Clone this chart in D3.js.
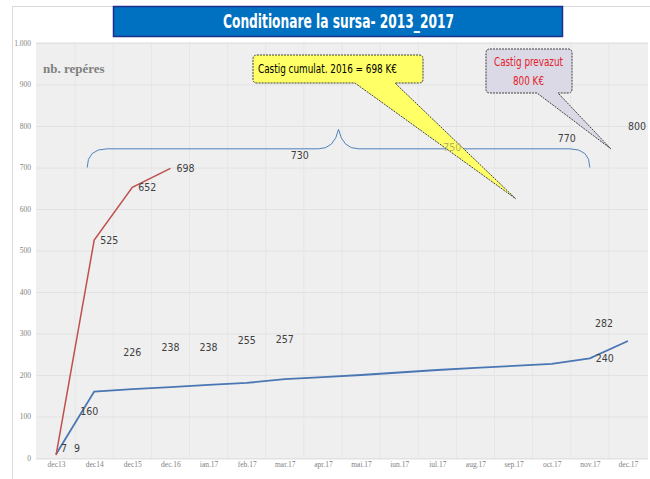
<!DOCTYPE html>
<html>
<head>
<meta charset="utf-8">
<script src="https://cdn.jsdelivr.net/npm/d3@7"></script>
<style>
  body { margin: 0; background: #fff; }
  svg { display: block; }
</style>
</head>
<body>
<div id="chart"></div>
<script>
var months = ["dec13", "dec14", "dec15", "dec.16", "ian.17", "feb.17", "mar.17", "apr.17",
              "mai.17", "iun.17", "iul.17", "aug.17", "sep.17", "oct.17", "nov.17", "dec.17"];
// red line: cumulated gain
var castigMonths = ["dec13", "dec14", "dec15", "dec.16"];
var castigValues = [7, 525, 652, 698];
// blue line: nb. reperes
var reperValues = [9, 160, 166, 171, 176, 181, 190, 195, 200, 206, 212, 217, 222, 227, 240, 282];
var yTicks = [0, 100, 200, 300, 400, 500, 600, 700, 800, 900, 1000];

// data labels (month, value, placement)
var labelMonths = ["dec13", "dec13", "dec14", "dec14", "dec15", "dec.16",
                   "dec15", "dec.16", "ian.17", "feb.17", "mar.17",
                   "mar.17", "iul.17", "nov.17", "dec.17", "nov.17", "dec.17"];
var labelValues = [7, 9, 525, 160, 652, 698,
                   226, 238, 238, 255, 257,
                   730, 750, 770, 800, 240, 282];
var labelPlaces = ["r1", "r2", "r", "b", "r", "r",
                   "a", "a", "a", "a", "a",
                   "r", "r", "l", "r0", "r", "al"];

var W = 650, H = 479;
var lblFont = "'DejaVu Sans Condensed', 'Liberation Sans', sans-serif";
var tickFont = "'Liberation Serif', 'DejaVu Serif', serif";

var svg = d3.select("#chart").append("svg")
  .attr("width", W)
  .attr("height", H);

var x = d3.scalePoint().domain(months).range([37, 647]).padding(0.5);
var y = d3.scaleLinear().domain([0, 1000]).range([458, 43]);

// outer frame
svg.append("rect")
  .attr("x", 12.5).attr("y", 6.5)
  .attr("width", 640).attr("height", 476)
  .attr("fill", "#fff")
  .attr("stroke", "#d9d9d9");

// plot area
svg.append("rect")
  .attr("x", 36).attr("y", 42)
  .attr("width", 612).attr("height", 418)
  .attr("fill", "#efefef");

var step = x.step();
svg.append("g").selectAll("line")
  .data(months.slice(1))
  .enter().append("line")
  .attr("x1", function (d) { return x(d) - step / 2; })
  .attr("x2", function (d) { return x(d) - step / 2; })
  .attr("y1", 42).attr("y2", 459)
  .attr("stroke", "#e6e6e6");

svg.append("g").selectAll("line")
  .data(yTicks)
  .enter().append("line")
  .attr("x1", 36).attr("x2", 648)
  .attr("y1", function (d) { return y(d) + 0.5; })
  .attr("y2", function (d) { return y(d) + 0.5; })
  .attr("stroke", "#e2e2e2");

// axes
var fmt = d3.formatLocale({decimal: ",", thousands: ".", grouping: [3], currency: ["", ""]}).format(",");
var yAxis = svg.append("g")
  .attr("transform", "translate(31,0)")
  .call(d3.axisLeft(y).tickValues(yTicks).tickFormat(fmt).tickSize(0).tickPadding(0));
yAxis.select(".domain").remove();
yAxis.selectAll("text")
  .attr("font-family", tickFont)
  .attr("font-size", "7.5px")
  .attr("fill", "#7f7f7f");

var xAxis = svg.append("g")
  .attr("transform", "translate(0,462)")
  .call(d3.axisBottom(x).tickSize(0).tickPadding(0));
xAxis.select(".domain").remove();
xAxis.selectAll("text")
  .attr("font-family", tickFont)
  .attr("font-size", "7.5px")
  .attr("fill", "#7f7f7f");

// "nb. reperes"
svg.append("text")
  .attr("x", 43).attr("y", 73)
  .attr("font-family", tickFont)
  .attr("font-weight", "bold")
  .attr("font-size", "13px")
  .attr("fill", "#808080")
  .text("nb. repéres");

// brace
var bx0 = x("dec14") - 7, bx1 = x("nov.17"), bxm = (bx0 + bx1) / 2;
var by0 = y(700), by1 = y(745), by2 = y(792);
var brace = d3.path();
brace.moveTo(bx0, by0);
brace.quadraticCurveTo(bx0, by1, bx0 + 20, by1);
brace.lineTo(bxm - 20, by1);
brace.quadraticCurveTo(bxm - 4, by1, bxm, by2);
brace.quadraticCurveTo(bxm + 4, by1, bxm + 20, by1);
brace.lineTo(bx1 - 20, by1);
brace.quadraticCurveTo(bx1, by1, bx1, by0);
svg.append("path")
  .attr("d", brace.toString())
  .attr("fill", "none")
  .attr("stroke", "#4f81bd")
  .attr("stroke-width", 1);

// lines
var line = d3.line()
  .x(function (d) { return x(d.m); })
  .y(function (d) { return y(d.v); });

svg.append("path")
  .datum(months.map(function (m, i) { return {m: m, v: reperValues[i]}; }))
  .attr("d", line)
  .attr("fill", "none")
  .attr("stroke", "#4a76b4")
  .attr("stroke-width", 1.8);

svg.append("path")
  .datum(castigMonths.map(function (m, i) { return {m: m, v: castigValues[i]}; }))
  .attr("d", line)
  .attr("fill", "none")
  .attr("stroke", "#c0504d")
  .attr("stroke-width", 1.5);

// callouts
function callout(bx, by, bw, bh, t0, t1, tip, fill) {
  var p = d3.path();
  var r = 4;
  p.moveTo(bx + r, by);
  p.lineTo(bx + bw - r, by);
  p.quadraticCurveTo(bx + bw, by, bx + bw, by + r);
  p.lineTo(bx + bw, by + bh - r);
  p.quadraticCurveTo(bx + bw, by + bh, bx + bw - r, by + bh);
  p.lineTo(t1, by + bh);
  p.lineTo(tip[0], tip[1]);
  p.lineTo(t0, by + bh);
  p.lineTo(bx + r, by + bh);
  p.quadraticCurveTo(bx, by + bh, bx, by + bh - r);
  p.lineTo(bx, by + r);
  p.quadraticCurveTo(bx, by, bx + r, by);
  p.closePath();
  svg.append("path")
    .attr("d", p.toString())
    .attr("fill", fill)
    .attr("stroke", "#404040")
    .attr("stroke-width", 1)
    .attr("stroke-dasharray", "2,1");
}

callout(253, 55, 170, 28, 355, 395, [x("sep.17") + 2, y(625)], "#ffff66");
svg.append("text")
  .attr("x", 258).attr("y", 73)
  .attr("font-family", lblFont)
  .attr("font-size", "12px")
  .attr("textLength", 139)
  .attr("lengthAdjust", "spacingAndGlyphs")
  .attr("fill", "#000")
  .text("Castig cumulat. 2016  = 698 K€");

callout(486, 49, 86, 44, 537, 558, [x("nov.17") + 21, y(745)], "#dcd9e6");
svg.append("text")
  .attr("x", 494).attr("y", 66)
  .attr("font-family", lblFont)
  .attr("font-size", "12px")
  .attr("textLength", 69)
  .attr("lengthAdjust", "spacingAndGlyphs")
  .attr("fill", "#e3202a")
  .text("Castig prevazut");
svg.append("text")
  .attr("x", 513).attr("y", 85)
  .attr("font-family", lblFont)
  .attr("font-size", "12px")
  .attr("textLength", 31)
  .attr("lengthAdjust", "spacingAndGlyphs")
  .attr("fill", "#e3202a")
  .text("800 K€");

// data labels
var place = {
  r:  {dx: 6,   dy: 4,   a: "start"},
  r0: {dx: 0,   dy: 4,   a: "start"},
  r1: {dx: 5,   dy: -3,  a: "start"},
  r2: {dx: 18,  dy: -2,  a: "start"},
  l:  {dx: -14, dy: 4,   a: "end"},
  a:  {dx: 0,   dy: -8,  a: "middle"},
  b:  {dx: -5,  dy: 23,  a: "middle"},
  al: {dx: -24, dy: -14, a: "middle"}
};
var labels = labelMonths.map(function (m, i) { return {m: m, v: labelValues[i], p: place[labelPlaces[i]]}; });

svg.append("g").selectAll("text")
  .data(labels)
  .enter().append("text")
  .attr("x", function (d) { return x(d.m) + d.p.dx; })
  .attr("y", function (d) { return y(d.v) + d.p.dy; })
  .attr("text-anchor", function (d) { return d.p.a; })
  .attr("font-family", lblFont)
  .attr("font-size", "10.5px")
  .attr("fill", function (d) { return d.v === 750 ? "#b8b060" : "#404040"; })
  .text(function (d) { return d.v; });

// title
svg.append("rect")
  .attr("x", 113.5).attr("y", 6.5)
  .attr("width", 449).attr("height", 30)
  .attr("fill", "#0070c0")
  .attr("stroke", "#1f2f8f")
  .attr("stroke-width", 1.5);
svg.append("text")
  .attr("x", 223).attr("y", 28)
  .attr("font-family", lblFont)
  .attr("font-weight", "bold")
  .attr("font-size", "19px")
  .attr("textLength", 231)
  .attr("lengthAdjust", "spacingAndGlyphs")
  .attr("fill", "#fff")
  .text("Conditionare la sursa- 2013_2017");
</script>
</body>
</html>
